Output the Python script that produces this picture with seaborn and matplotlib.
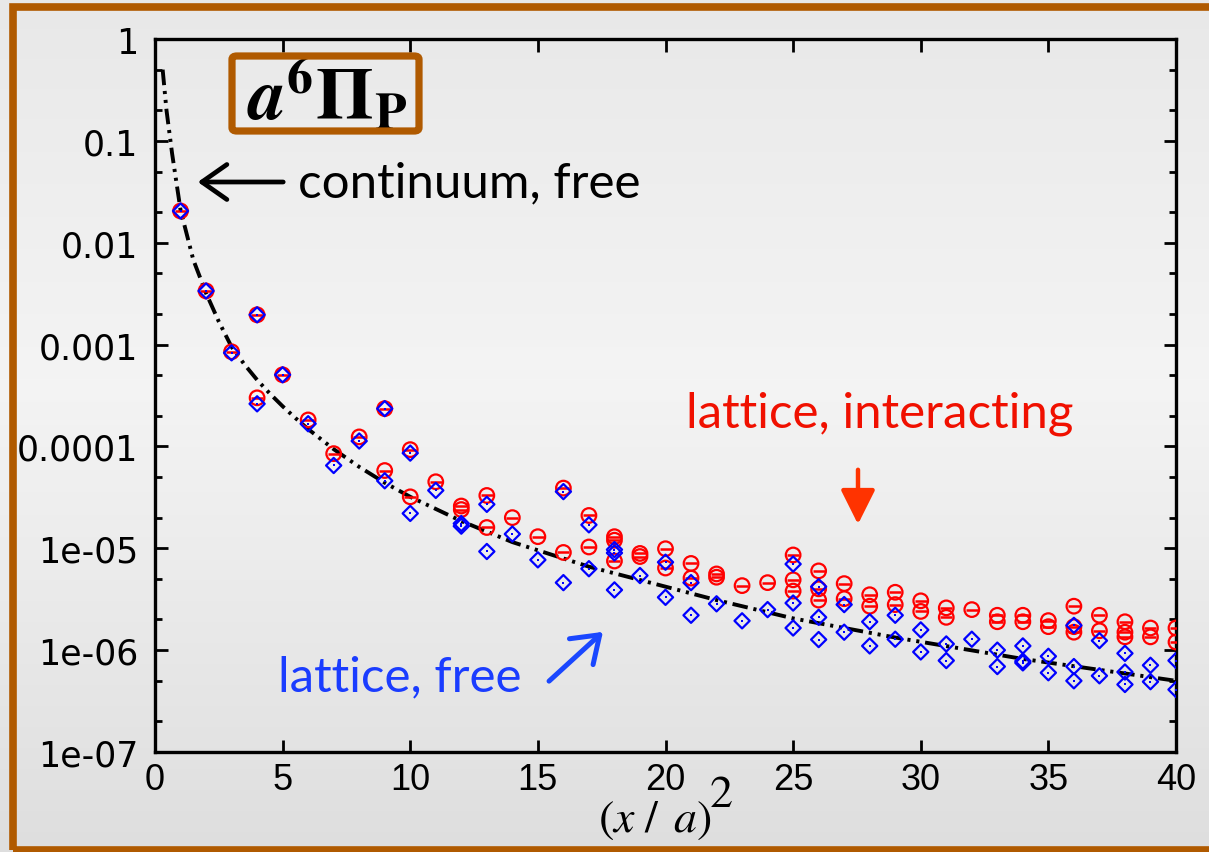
import numpy as np
import pandas as pd
import matplotlib
matplotlib.use("Agg")
import matplotlib.pyplot as plt
import seaborn as sns
from matplotlib.patches import Rectangle, FancyBboxPatch
from matplotlib.ticker import LogLocator, NullFormatter

# ---------------- data ----------------
curve_x2 = [0.30, 0.45, 0.67, 1.0, 1.5, 2.0, 2.5, 3.0, 3.5, 4.0, 4.5, 5.0, 5.5, 6.0, 7.0,
            8.0, 9.0, 10.0, 12.0, 14.0, 17.0, 20.0, 22.0, 25.0, 29.0, 34.0, 38.0, 40.0]
curve_val = [0.5, 0.2, 0.075, 0.021, 0.0068, 0.0032, 0.00168, 0.00095, 0.00064, 0.00045,
             0.00033, 0.000248, 0.00019, 0.000148, 9.4e-5, 6.3e-5, 4.4e-5, 3.2e-5,
             1.85e-5, 1.15e-5, 6.6e-6, 4.2e-6, 3.1e-6, 2.05e-6, 1.33e-6, 8.2e-7, 5.9e-7,
             5.0e-7]

red_x2 = [1, 2, 3, 4, 4, 5, 6, 7, 8, 9, 9, 10, 10, 11, 12, 12, 13, 13, 14, 15, 16, 16,
          17, 17, 18, 18, 18, 19, 19, 20, 20, 21, 21, 22, 22, 23, 24, 25, 25, 25,
          26, 26, 26, 27, 27, 28, 28, 29, 29, 30, 30, 31, 31, 32, 33, 33, 34, 34,
          35, 35, 36, 36, 36, 37, 37, 38, 38, 38, 39, 39, 40, 40]
red_val = [0.0205, 0.00336, 0.00085, 0.00196, 0.0003, 0.000505, 1.82e-4, 8.5e-5, 1.24e-4,
           2.35e-4, 5.8e-5, 9.3e-5, 3.2e-5, 4.5e-5, 2.6e-5, 2.4e-5, 3.3e-5, 1.6e-5,
           2.0e-5, 1.3e-5, 3.9e-5, 9.1e-6, 2.1e-5, 1.03e-5, 1.3e-5, 1.2e-5, 7.5e-6,
           8.9e-6, 8.3e-6, 9.9e-6, 6.4e-6, 7.1e-6, 5.1e-6, 5.6e-6, 5.2e-6, 4.3e-6,
           4.6e-6, 8.6e-6, 4.9e-6, 3.8e-6, 6.0e-6, 4.0e-6, 3.1e-6, 4.5e-6, 3.2e-6,
           3.5e-6, 2.7e-6, 3.7e-6, 2.8e-6, 3.05e-6, 2.4e-6, 2.6e-6, 2.1e-6, 2.5e-6,
           2.2e-6, 1.9e-6, 2.2e-6, 1.9e-6, 1.95e-6, 1.7e-6, 2.7e-6, 1.7e-6, 1.5e-6,
           2.2e-6, 1.55e-6, 1.9e-6, 1.5e-6, 1.35e-6, 1.65e-6, 1.35e-6, 1.65e-6, 1.2e-6]

blue_x2 = [1, 2, 3, 4, 4, 5, 6, 7, 8, 9, 9, 10, 10, 11, 12, 12, 13, 13, 14, 15, 16, 16,
           17, 17, 18, 18, 18, 19, 20, 20, 21, 21, 22, 23, 24, 25, 25, 25, 26, 26, 26,
           27, 27, 28, 28, 29, 29, 30, 30, 31, 31, 32, 33, 33, 34, 34, 34, 35, 35,
           36, 36, 36, 37, 37, 38, 38, 38, 39, 39, 40, 40]
blue_val = [0.0205, 0.00336, 0.00083, 0.00196, 0.000262, 0.000505, 1.67e-4, 6.5e-5, 1.13e-4,
            2.35e-4, 4.6e-5, 8.6e-5, 2.2e-5, 3.7e-5, 1.75e-5, 1.65e-5, 2.7e-5, 9.3e-6,
            1.38e-5, 7.7e-6, 3.6e-5, 4.6e-6, 1.7e-5, 6.3e-6, 9.7e-6, 9.0e-6, 3.9e-6,
            5.4e-6, 7.3e-6, 3.3e-6, 4.6e-6, 2.2e-6, 2.85e-6, 1.94e-6, 2.5e-6, 7.0e-6,
            2.9e-6, 1.65e-6, 4.2e-6, 2.1e-6, 1.27e-6, 2.8e-6, 1.5e-6, 1.9e-6, 1.1e-6,
            2.2e-6, 1.28e-6, 1.58e-6, 9.6e-7, 1.15e-6, 7.9e-7, 1.28e-6, 1.0e-6, 6.9e-7,
            1.1e-6, 7.8e-7, 7.5e-7, 8.7e-7, 6.0e-7, 1.75e-6, 6.9e-7, 5.0e-7, 1.24e-6,
            5.6e-7, 9.3e-7, 6.1e-7, 4.6e-7, 7.1e-7, 4.9e-7, 7.9e-7, 4.1e-7]

x_ticks = [0, 5, 10, 15, 20, 25, 30, 35, 40]
x_ticklabels = ["0", "5", "10", "15", "20", "25", "30", "35", "40"]
y_ticks = [1e-7, 1e-6, 1e-5, 1e-4, 1e-3, 1e-2, 1e-1, 1]
y_ticklabels = ["1e-07", "1e-06", "1e-05", "0.0001", "0.001", "0.01", "0.1", "1"]

# ---------------- style ----------------
sns.set_theme(style="ticks")
plt.rcParams["font.family"] = ["Liberation Sans", "DejaVu Sans"]
plt.rcParams["mathtext.fontset"] = "stix"

W, H = 1209, 853
fig = plt.figure(figsize=(W / 100, H / 100), dpi=100)

# background gradient
bg = fig.add_axes([0, 0, 1, 1], zorder=-10)
rows = np.interp(np.arange(H), [0, 120, 380, 560, H], [232, 236, 244, 236, 222]) / 255.0
img = np.repeat(rows[:, None], 4, axis=1)
bg.imshow(np.dstack([img, img, img]), aspect="auto", extent=[0, 1, 0, 1])
bg.set_axis_off()

brown = "#b05a00"
fig.patches.append(Rectangle((13 / W, 2 / H), 1.2, (851 - 8) / H, transform=fig.transFigure,
                             fill=False, edgecolor=brown, linewidth=5.5, zorder=-5))

ax = fig.add_axes([155 / W, 1 - 753 / H, (1176 - 155) / W, (753 - 40) / H])
ax.set_facecolor("none")

df_curve = pd.DataFrame({"x2": curve_x2, "v": curve_val})
df_red = pd.DataFrame({"x2": red_x2, "v": red_val})
df_blue = pd.DataFrame({"x2": blue_x2, "v": blue_val})

sns.lineplot(data=df_curve, x="x2", y="v", ax=ax, color="black", linewidth=2.8, zorder=2)
ax.lines[-1].set_dashes([4.0, 1.5, 0.8, 1.5, 0.8, 1.5])

sns.scatterplot(data=df_red, x="x2", y="v", ax=ax, marker="o", s=110, facecolors="none",
                edgecolor="#ff0000", linewidth=1.6, zorder=3)
sns.scatterplot(data=df_red, x="x2", y="v", ax=ax, marker="_", s=85, color="#ff0000",
                linewidth=1.8, zorder=3)
sns.scatterplot(data=df_blue, x="x2", y="v", ax=ax, marker="D", s=60, facecolors="none",
                edgecolor="#0000ff", linewidth=1.6, zorder=4)
sns.scatterplot(data=df_blue, x="x2", y="v", ax=ax, marker="s", s=2, color="#0000ff",
                linewidth=0, zorder=4)

ax.set_yscale("log")
ax.set_xlim(0, 40)
ax.set_ylim(1e-7, 1)
ax.set_xticks(x_ticks, labels=x_ticklabels, fontsize=26, fontfamily="Liberation Sans")
ax.set_yticks(y_ticks, labels=y_ticklabels, fontsize=25, fontfamily="DejaVu Sans")
ax.yaxis.set_minor_locator(LogLocator(base=10, subs=[2, 5], numticks=20))
ax.yaxis.set_minor_formatter(NullFormatter())
ax.tick_params(which="both", direction="in", top=True, right=True, color="black",
               width=2.0, labelcolor="black")
ax.tick_params(which="major", length=9)
ax.tick_params(which="minor", length=5)
ax.tick_params(axis="y", pad=12)
ax.tick_params(axis="x", pad=7)
for sp in ax.spines.values():
    sp.set_linewidth(2.4)
    sp.set_color("black")
ax.set_xlabel("")
ax.set_ylabel("")

# x-axis title "(x / a)^2"
fig.text(655 / W, 1 - 820 / H, r"$(x\ /\ \,a)$", fontsize=33, ha="center", va="center",
         color="black")
fig.text(709 / W, 1 - 795 / H, r"$\mathrm{2}$", fontsize=33, ha="left", va="center",
         color="black")

# label box
fig.patches.append(FancyBboxPatch((232 / W, 1 - 132 / H), (419 - 232) / W, (132 - 57) / H,
                                  boxstyle="round,pad=0,rounding_size=0.004",
                                  transform=fig.transFigure, fill=False,
                                  edgecolor=brown, linewidth=5.2, zorder=5))
fig.text(327 / W, 1 - 96 / H, r"$\mathbfit{a}^{\mathbf{6}}\mathbf{\Pi}_{\mathbf{P}}$",
         fontsize=53, ha="center", va="center", color="black")

# annotations
afont = ["Lato", "DejaVu Sans"]
fig.text(298 / W, 1 - 183 / H, "continuum, free", fontsize=35.5, family=afont,
         ha="left", va="center", color="black")
fig.text(686 / W, 1 - 414 / H, "lattice, interacting", fontsize=35.5, family=afont,
         ha="left", va="center", color="#f01000")
fig.text(278 / W, 1 - 677 / H, "lattice, free", fontsize=35.5, family=afont,
         ha="left", va="center", color="#1a3cff")

ax.annotate("", xy=(195, H - 183), xytext=(286, H - 183), xycoords="figure pixels",
            textcoords="figure pixels",
            arrowprops=dict(arrowstyle="->,head_length=0.6,head_width=0.42", lw=3.4,
                            color="black", mutation_scale=30))
ax.annotate("", xy=(858, H - 528), xytext=(858, H - 468), xycoords="figure pixels",
            textcoords="figure pixels",
            arrowprops=dict(arrowstyle="-|>,head_length=0.7,head_width=0.35", lw=3.2,
                            color="#ff3300", mutation_scale=30))
ax.annotate("", xy=(605, H - 631), xytext=(547, H - 684), xycoords="figure pixels",
            textcoords="figure pixels",
            arrowprops=dict(arrowstyle="->,head_length=0.6,head_width=0.42", lw=3.6,
                            color="#1a47ff", mutation_scale=30))

fig.savefig("out.png", dpi=100)
